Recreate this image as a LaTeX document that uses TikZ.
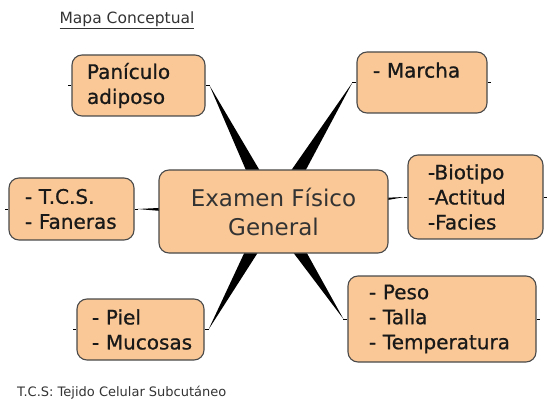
\documentclass[tikz,border=0pt]{standalone}
\usepackage{fontspec}
\setmainfont{DejaVu Sans}
\newfontfamily\boxfont[FakeBold=0.8]{DejaVu Sans}
\usetikzlibrary{calc,backgrounds}
\definecolor{peach}{HTML}{FAC896}
\definecolor{edgegray}{HTML}{4A4A4A}
\definecolor{darktext}{HTML}{333333}
\newcommand\wedgeto[2]{\fill[black] (#2) -- ($(#1)!9pt!90:(#2)$) -- ($(#1)!9pt!-90:(#2)$) -- cycle;}
\begin{document}
\begin{tikzpicture}[x=1pt,y=-1pt,
  box/.style={draw=edgegray, line width=1.1pt, fill=peach, rounded corners=10pt,
    align=left, inner ysep=0pt, font=\boxfont\fontsize{20}{25}\selectfont, text=black!90,
    execute at begin node={\hyphenpenalty=10000\exhyphenpenalty=10000}},
  stub/.style={draw=black, line width=0.8pt}]
\useasboundingbox (0,0) rectangle (550,412);

\node[font=\fontsize{15.5}{18}\selectfont, text=darktext] (title) at (127,20) {\underline{Mapa Conceptual}};

\node[box, align=center, text=darktext, font=\fontsize{23}{29}\selectfont, minimum width=229pt, minimum height=83pt, inner xsep=0pt] (exam) at (273.5,211.5) {Examen Físico\\General};

\node[box, inner xsep=15pt, text width=103pt, minimum width=133pt, minimum height=61pt] (pan) at (138.5,85.5) {Panículo\\adiposo};
\node[box, inner xsep=16pt, text width=98pt, minimum width=130pt, minimum height=61pt] (mar) at (422,82.5) {- Marcha\\\mbox{}};
\node[box, inner xsep=20pt, text width=95pt, minimum width=135pt, minimum height=84pt] (bio) at (475.5,197) {-Biotipo\\-Actitud\\-Facies};
\node[box, inner xsep=16pt, text width=93pt, minimum width=125pt, minimum height=62pt] (tcs) at (71.5,209) {- T.C.S.\\- Faneras};
\node[box, inner xsep=15pt, text width=97pt, minimum width=127pt, minimum height=61pt] (piel) at (140.5,329.5) {- Piel\\\mbox{- Mucosas}};
\node[box, inner xsep=21pt, text width=146pt, minimum width=188pt, minimum height=86pt] (peso) at (442,319) {- Peso\\- Talla\\- Temperatura};

\node[font=\fontsize{13}{16}\selectfont, text=darktext, anchor=west, inner sep=0pt] (foot) at (17,393) {T.C.S: Tejido Celular Subcutáneo};

\coordinate (cpan) at ([xshift=4pt]pan.east);
\coordinate (cmar) at ([xshift=-4pt]mar.west);
\coordinate (cbio) at ([xshift=-3pt]bio.west);
\coordinate (ctcs) at ([xshift=3pt]tcs.east);
\coordinate (cpiel) at ([xshift=4pt]piel.east);
\coordinate (cpeso) at ([xshift=-4pt]peso.west);

\begin{pgfonlayer}{background}
\wedgeto{exam.center}{cpan}
\wedgeto{exam.center}{cmar}
\wedgeto{exam.center}{cbio}
\wedgeto{exam.center}{ctcs}
\wedgeto{exam.center}{cpiel}
\wedgeto{exam.center}{cpeso}
\draw[stub] (pan.east) -- (cpan);
\draw[stub] (mar.west) -- (cmar);
\draw[stub] (bio.west) -- (cbio);
\draw[stub] (tcs.east) -- (ctcs);
\draw[stub] (piel.east) -- (cpiel);
\draw[stub] (peso.west) -- (cpeso);
\draw[stub] (pan.west) -- ++(-3,0);
\draw[stub] (mar.east) -- ++(3,0);
\draw[stub] (bio.east) -- ++(3,0);
\draw[stub] (tcs.west) -- ++(-3,0);
\draw[stub] (piel.west) -- ++(-3,0);
\draw[stub] (peso.east) -- ++(3,0);
\end{pgfonlayer}
\end{tikzpicture}
\end{document}
